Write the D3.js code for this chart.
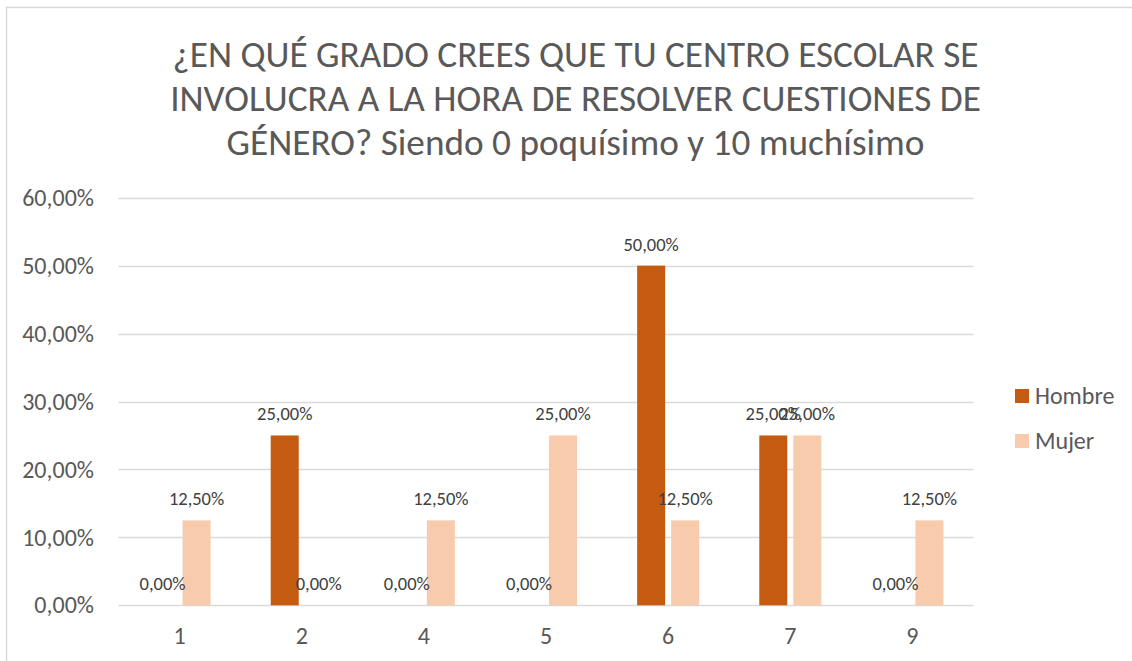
<!DOCTYPE html>
<html>
<head>
<meta charset="utf-8">
<script src="https://cdn.jsdelivr.net/npm/d3@7"></script>
<style>
  html, body { margin: 0; padding: 0; background: #ffffff; }
  svg { display: block; }
  text { font-family: Carlito, Calibri, "Open Sans", "Noto Sans", sans-serif; }
</style>
</head>
<body>
<svg id="chart" width="1132" height="661"></svg>
<script>
// Survey answers (share of respondents per score), by gender
const categories = ["1", "2", "4", "5", "6", "7", "9"];
const seriesNames = ["Hombre", "Mujer"];
const hombre = [0, 25, 0, 0, 50, 25, 0];
const mujer = [12.5, 0, 12.5, 25, 12.5, 25, 12.5];
const yTicks = [0, 10, 20, 30, 40, 50, 60];
const titleLines = [
  "¿EN QUÉ GRADO CREES QUE TU CENTRO ESCOLAR SE",
  "INVOLUCRA A LA HORA DE RESOLVER CUESTIONES DE",
  "GÉNERO? Siendo 0 poquísimo y 10 muchísimo"
];
const colors = { Hombre: "#C55A11", Mujer: "#F8CBAD" };

const rows = categories.map((c, i) => ({ cat: c, Hombre: hombre[i], Mujer: mujer[i] }));

const esLocale = d3.formatLocale({ decimal: ",", thousands: ".", grouping: [3], currency: ["", " €"] });
const fmt = v => esLocale.format(".2f")(v) + "%";
const FONT = 'Carlito, Calibri, "Open Sans", "Noto Sans", sans-serif';

const svg = d3.select("#chart");
const W = 1132, H = 661;

// Chart frame
svg.append("line").attr("x1", 6).attr("x2", W).attr("y1", 7.5).attr("y2", 7.5)
  .attr("stroke", "#d9d9d9").attr("stroke-width", 1.5);
svg.append("line").attr("x1", 6.5).attr("x2", 6.5).attr("y1", 7).attr("y2", H)
  .attr("stroke", "#d9d9d9").attr("stroke-width", 1.5);

// Title, sized so the first line spans its intended width
const title = svg.append("g").attr("fill", "#595959");
const titleCenter = 575.5;
const titleBaselines = [67, 111, 155];
const probe = title.append("text").attr("font-size", 31).text(titleLines[0]);
const probeW = probe.node().getComputedTextLength();
probe.remove();
const titleSize = 31 * 806 / probeW;
titleLines.forEach((t, i) => {
  title.append("text")
    .attr("x", titleCenter).attr("y", titleBaselines[i])
    .attr("text-anchor", "middle")
    .attr("font-size", titleSize)
    .text(t);
});

// Scales
const plotLeft = 118.5, plotRight = 973.5;
const y = d3.scaleLinear().domain([0, 60]).range([605.3, 197.7]);
const x0 = d3.scaleBand().domain(categories).range([plotLeft, plotRight]).paddingInner(0).paddingOuter(0);
const bw = x0.bandwidth();
const x1 = d3.scaleBand().domain(seriesNames).range([bw / 2 - 31, bw / 2 + 31]).paddingInner(0.176);

// Gridlines
svg.append("g").selectAll("line").data(yTicks).join("line")
  .attr("x1", plotLeft).attr("x2", plotRight)
  .attr("y1", d => Math.round(y(d)) + 0.5).attr("y2", d => Math.round(y(d)) + 0.5)
  .attr("stroke", "#d9d9d9").attr("stroke-width", 1.3);

// Y axis labels
const yAxis = svg.append("g").attr("transform", "translate(94,0)")
  .call(d3.axisLeft(y).tickValues(yTicks).tickSize(0).tickPadding(0).tickFormat(fmt));
yAxis.select(".domain").remove();
yAxis.selectAll("text").attr("fill", "#595959").attr("font-size", 24)
  .style("font-family", FONT);

// X axis labels
const xAxis = svg.append("g").attr("transform", "translate(0,606)")
  .call(d3.axisBottom(x0).tickSize(0).tickPadding(0));
xAxis.select(".domain").remove();
xAxis.selectAll("text").attr("fill", "#595959").attr("font-size", 24).attr("dy", "1.6em")
  .style("font-family", FONT);

// Bars
const groups = svg.append("g").selectAll("g").data(rows).join("g")
  .attr("transform", d => `translate(${x0(d.cat)},0)`);

groups.selectAll("rect").data(d => seriesNames.map(s => ({ s, v: d[s] }))).join("rect")
  .attr("x", d => x1(d.s))
  .attr("width", x1.bandwidth())
  .attr("y", d => y(d.v))
  .attr("height", d => y(0) - y(d.v))
  .attr("fill", d => colors[d.s]);

// Data labels
groups.selectAll("text.lbl").data(d => seriesNames.map(s => ({ s, v: d[s] }))).join("text")
  .attr("class", "lbl")
  .attr("x", d => x1(d.s) + x1.bandwidth() / 2)
  .attr("y", d => y(d.v) - 15)
  .attr("text-anchor", "middle")
  .attr("font-size", 18.5)
  .attr("fill", "#404040")
  .text(d => fmt(d.v));

// Legend
const legend = svg.append("g").selectAll("g").data(seriesNames).join("g")
  .attr("transform", (d, i) => `translate(1015,${389 + i * 45})`);
legend.append("rect").attr("width", 14).attr("height", 14).attr("fill", d => colors[d]);
legend.append("text").attr("x", 20).attr("y", 7).attr("dy", "0.35em")
  .attr("font-size", 24).attr("fill", "#595959").text(d => d);
</script>
</body>
</html>
